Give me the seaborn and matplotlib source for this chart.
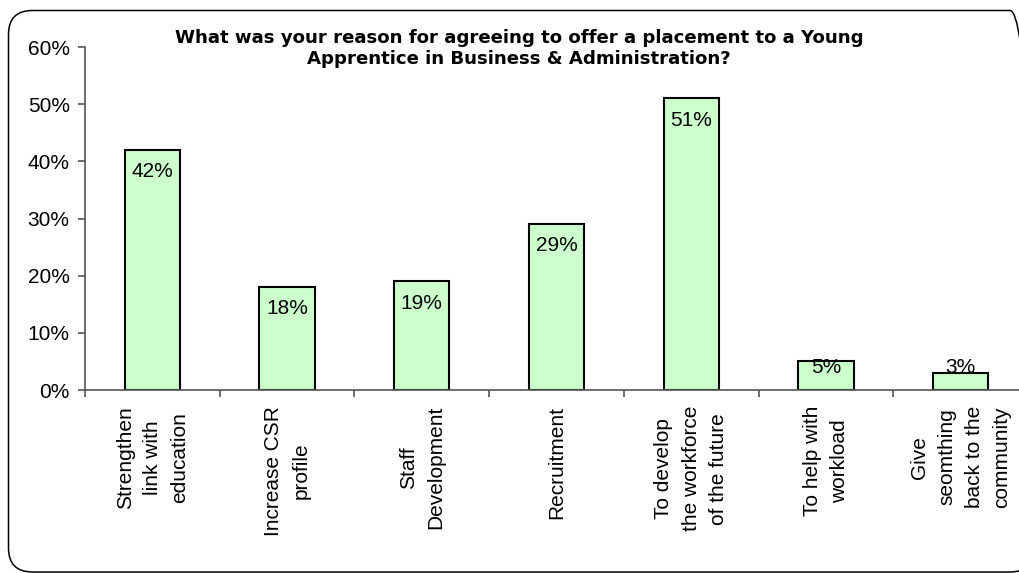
import matplotlib
matplotlib.use("Agg")
import matplotlib.pyplot as plt
import matplotlib.patches as mpatches
from matplotlib.ticker import PercentFormatter, FixedLocator
import numpy as np
import pandas as pd
import seaborn as sns

# Survey responses (% of employers)
categories = [
    "Strengthen\nlink with\neducation",
    "Increase CSR\nprofile",
    "Staff\nDevelopment",
    "Recruitment",
    "To develop\nthe workforce\nof the future",
    "To help with\nworkload",
    "Give\nseomthing\nback to the\ncommunity",
]
values = [42, 18, 19, 29, 51, 5, 3]
y_ticks = [0, 10, 20, 30, 40, 50, 60]
title = ("What was your reason for agreeing to offer a placement to a Young\n"
         "Apprentice in Business & Administration?")

sns.set_style("white")
plt.rcParams["font.family"] = ["Liberation Sans", "DejaVu Sans"]
plt.rcParams["text.color"] = "black"
plt.rcParams["xtick.color"] = "black"
plt.rcParams["ytick.color"] = "black"
plt.rcParams["xtick.labelcolor"] = "black"
plt.rcParams["ytick.labelcolor"] = "black"

W, H, DPI = 1020, 573, 100
fig = plt.figure(figsize=(W / DPI, H / DPI), dpi=DPI)

# plot area in pixel terms
ax_left, ax_right, ax_top, ax_bottom = 85, 1028, 47, 390
ax = fig.add_axes([ax_left / W, (H - ax_bottom) / H,
                   (ax_right - ax_left) / W, (ax_bottom - ax_top) / H])

df = pd.DataFrame({"reason": categories, "share": values})
sns.barplot(data=df, x="reason", y="share", color="#CCFFCC",
            edgecolor="black", linewidth=1.5, width=0.41,
            saturation=1, ax=ax)

n = len(categories)
ax.set_xlim(-0.5, n - 0.5)
ax.set_ylim(y_ticks[0], y_ticks[-1])
ax.set_yticks(y_ticks)
ax.yaxis.set_major_formatter(PercentFormatter(decimals=0))
ax.set_xlabel("")
ax.set_ylabel("")

# value labels just inside the top of each bar, kept clear of the axis
for i, v in enumerate(values):
    ax.text(i, max(v - 3.8, 4.0), f"{v}%", ha="center", va="center",
            fontsize=15, color="black")

for s in ["top", "right"]:
    ax.spines[s].set_visible(False)
for s in ["left", "bottom"]:
    ax.spines[s].set_color("#555555")
    ax.spines[s].set_linewidth(1.2)

ax.tick_params(axis="y", direction="out", length=5, width=1.2,
               color="#555555", pad=6, labelsize=15, left=True,
               labelcolor="black")
ax.tick_params(axis="x", which="major", length=0, pad=11.5, labelsize=15,
               labelcolor="black")
ax.xaxis.set_minor_locator(FixedLocator(np.arange(-0.5, n, 1.0)))
ax.tick_params(axis="x", which="minor", direction="out", length=5,
               width=1.2, color="#555555", bottom=True)
for lab in ax.get_xticklabels():
    lab.set_rotation(90)
    lab.set_ha("center")
    lab.set_va("top")
    lab.set_multialignment("center")
    lab.set_linespacing(1.55)

fig.text(519 / W, 1 - 29 / H, title, ha="center", va="top",
         fontsize=13.1, fontweight="bold", family="DejaVu Sans",
         linespacing=1.25, color="black")

# rounded frame around the chart
frame = mpatches.FancyBboxPatch(
    (8.5 / DPI, (H - 572) / DPI), (1034 - 8.5) / DPI, (572 - 10.5) / DPI,
    boxstyle="round,pad=0,rounding_size=0.24",
    transform=fig.dpi_scale_trans, facecolor="none",
    edgecolor="black", linewidth=1.1, clip_on=False)
fig.patches.append(frame)

fig.savefig("out.png", dpi=DPI)
